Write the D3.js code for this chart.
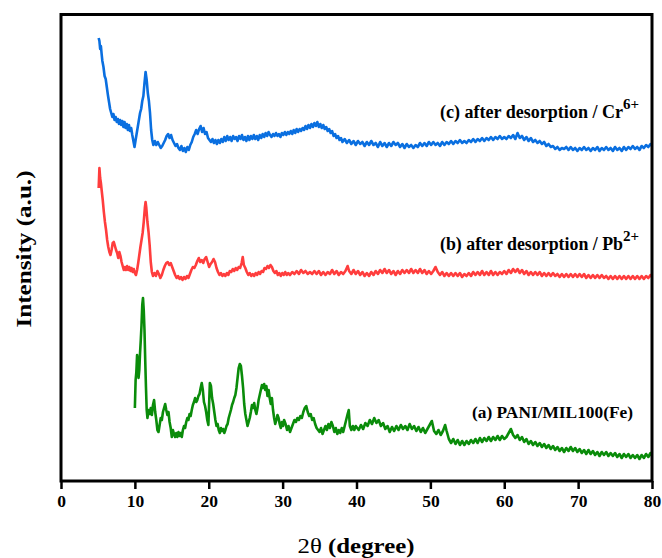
<!DOCTYPE html>
<html>
<head>
<meta charset="utf-8">
<script src="https://cdn.jsdelivr.net/npm/d3@7/dist/d3.min.js"></script>
<style>
  html, body { margin: 0; padding: 0; background: #fff; }
  svg { display: block; }
  text { font-family: "Liberation Serif", "DejaVu Serif", serif; }
</style>
</head>
<body>
<svg id="chart" width="662" height="558"></svg>
<script>
// 2θ tick values on the x axis
const xTicks = [0, 10, 20, 30, 40, 50, 60, 70, 80];

// (c) after desorption / Cr6+  — [2θ, intensity (a.u.)]
const patternC = [
[5.1,443],[5.2,440],[5.3,432],[5.4,435],[5.5,427],[5.6,420],[5.75,414],[5.9,405],[6.05,402],[6.2,394],[6.35,386],[6.5,379],[6.65,372],[6.8,368],[6.95,364],[7.1,367],[7.25,361],[7.4,364],[7.55,359],[7.7,362],[7.85,357],[8.0,361],[8.15,356],[8.3,360],[8.45,354],[8.6,359],[8.75,353],[8.9,357],[9.05,351],[9.2,356],[9.35,350],[9.5,353],[9.65,346],[9.8,340],[9.95,334],[10.1,341],[10.3,350],[10.5,359],[10.7,368],[10.85,372],[11.0,380],[11.15,385],[11.3,398],[11.45,409],[11.6,401],[11.75,388],[11.9,380],[12.05,368],[12.2,351],[12.35,341],[12.5,336],[12.7,340],[12.9,336],[13.1,339],[13.3,336],[13.5,333],[13.7,335],[13.9,338],[14.1,341],[14.3,345],[14.5,347],[14.7,343],[14.9,346],[15.1,341],[15.3,338],[15.5,335],[15.7,337],[15.9,333],[16.1,331],[16.3,335],[16.5,330],[16.7,333],[16.9,329],[17.1,334],[17.3,331],[17.5,336],[17.7,339],[17.9,344],[18.1,347],[18.3,351],[18.5,347],[18.7,352],[18.9,355],[19.1,349],[19.3,353],[19.5,347],[19.7,349],[19.9,343],[20.1,341],[20.3,339],[20.5,342],[20.7,338],[20.9,341],[21.1,337],[21.3,341],[21.5,338],[21.7,342],[21.9,339],[22.1,344],[22.3,340],[22.5,345],[22.7,341],[22.9,344],[23.1,340],[23.3,345],[23.5,342],[23.7,344],[23.9,340],[24.1,345],[24.3,342],[24.5,346],[24.7,341],[24.9,344],[25.1,340],[25.3,345],[25.5,341],[25.7,345],[25.9,342],[26.1,346],[26.3,342],[26.5,345],[26.7,341],[26.9,346],[27.1,343],[27.3,347],[27.5,344],[27.7,348],[27.9,345],[28.1,349],[28.3,346],[28.5,344],[28.7,347],[28.9,345],[29.1,348],[29.3,345],[29.5,347],[29.7,344],[29.9,348],[30.1,346],[30.3,349],[30.5,346],[30.7,349],[30.9,347],[31.1,350],[31.3,347],[31.5,351],[31.7,348],[31.9,352],[32.1,349],[32.3,352],[32.5,350],[32.7,353],[32.9,351],[33.1,355],[33.3,352],[33.5,356],[33.7,353],[33.9,357],[34.1,354],[34.3,358],[34.5,355],[34.7,359],[34.9,354],[35.1,357],[35.3,353],[35.5,356],[35.7,352],[35.9,354],[36.1,350],[36.3,352],[36.5,348],[36.7,350],[36.9,345],[37.1,347],[37.3,343],[37.5,345],[37.7,341],[37.9,343],[38.1,339],[38.4,342],[38.7,338],[39.0,341],[39.3,337],[39.6,340],[39.9,336],[40.2,340],[40.5,337],[40.8,339],[41.1,335],[41.4,339],[41.7,336],[42.0,340],[42.3,336],[42.6,338],[42.9,334],[43.2,339],[43.5,335],[43.8,338],[44.1,334],[44.4,338],[44.7,335],[45.0,339],[45.3,336],[45.6,338],[45.9,334],[46.2,337],[46.5,333],[46.8,337],[47.1,334],[47.4,336],[47.7,333],[48.0,336],[48.3,334],[48.6,338],[48.9,335],[49.2,338],[49.5,335],[49.8,339],[50.1,336],[50.4,339],[50.7,336],[51.0,338],[51.3,335],[51.6,339],[51.9,336],[52.2,339],[52.5,337],[52.8,340],[53.1,337],[53.4,340],[53.7,338],[54.0,341],[54.3,338],[54.6,340],[54.9,338],[55.2,341],[55.5,339],[55.8,342],[56.1,339],[56.4,342],[56.7,340],[57.0,343],[57.3,340],[57.6,343],[57.9,341],[58.2,344],[58.5,341],[58.8,344],[59.1,342],[59.4,345],[59.7,342],[60.0,344],[60.3,342],[60.6,345],[60.9,343],[61.2,346],[61.5,342],[61.8,348],[62.1,343],[62.4,345],[62.7,341],[63.0,344],[63.3,340],[63.6,343],[63.9,339],[64.2,341],[64.5,338],[64.8,340],[65.1,337],[65.4,339],[65.7,335],[66.0,337],[66.3,334],[66.6,335],[66.9,332],[67.2,334],[67.5,331],[67.8,333],[68.1,332],[68.4,334],[68.7,331],[69.0,334],[69.3,331],[69.6,333],[69.9,330],[70.2,333],[70.5,331],[70.8,334],[71.1,331],[71.4,333],[71.7,330],[72.0,333],[72.3,331],[72.6,334],[72.9,330],[73.2,333],[73.5,331],[73.8,334],[74.1,331],[74.4,333],[74.7,330],[75.0,334],[75.3,331],[75.6,333],[75.9,330],[76.2,334],[76.5,331],[76.8,334],[77.1,332],[77.4,335],[77.7,332],[78.0,334],[78.3,331],[78.6,335],[78.9,333],[79.2,336],[79.5,334],[79.8,337],[80.0,335]
];

// (b) after desorption / Pb2+
const patternB = [
[5.1,293],[5.2,313],[5.3,303],[5.4,298],[5.5,291],[5.65,281],[5.8,269],[5.95,259],[6.1,251],[6.25,241],[6.4,234],[6.55,229],[6.7,226],[6.85,231],[7.0,238],[7.15,239],[7.3,235],[7.45,231],[7.6,228],[7.75,223],[7.9,229],[8.05,225],[8.2,219],[8.35,215],[8.5,211],[8.65,214],[8.8,211],[8.95,215],[9.1,211],[9.25,214],[9.4,210],[9.55,213],[9.7,209],[9.85,212],[10.0,208],[10.15,206],[10.3,211],[10.45,218],[10.6,226],[10.75,234],[10.9,241],[11.05,248],[11.2,259],[11.35,273],[11.45,279],[11.55,273],[11.7,259],[11.85,249],[12.0,236],[12.15,219],[12.3,209],[12.45,205],[12.65,208],[12.85,205],[13.05,210],[13.25,207],[13.45,203],[13.65,206],[13.85,211],[14.05,215],[14.25,218],[14.45,219],[14.65,216],[14.85,218],[15.05,214],[15.25,210],[15.45,206],[15.65,203],[15.85,205],[16.05,202],[16.25,204],[16.45,201],[16.65,204],[16.85,202],[17.05,205],[17.25,203],[17.45,207],[17.65,211],[17.85,214],[18.05,213],[18.25,216],[18.45,220],[18.65,223],[18.85,219],[19.05,221],[19.25,218],[19.45,222],[19.65,224],[19.85,219],[20.05,214],[20.25,217],[20.45,219],[20.65,222],[20.85,219],[21.05,213],[21.25,209],[21.45,206],[21.65,208],[21.85,205],[22.05,207],[22.25,205],[22.45,208],[22.65,206],[22.85,210],[23.05,209],[23.25,212],[23.45,210],[23.65,213],[23.85,211],[24.05,214],[24.25,213],[24.45,218],[24.6,224],[24.75,216],[24.95,213],[25.15,209],[25.35,206],[25.55,208],[25.75,205],[25.95,207],[26.15,205],[26.35,208],[26.55,206],[26.75,209],[26.95,207],[27.15,210],[27.35,209],[27.55,213],[27.75,212],[27.95,215],[28.15,213],[28.35,216],[28.55,214],[28.75,210],[28.95,208],[29.15,210],[29.35,206],[29.55,208],[29.75,205],[29.95,208],[30.15,206],[30.35,209],[30.55,206],[30.75,208],[31.0,206],[31.3,209],[31.6,207],[31.9,210],[32.2,207],[32.5,211],[32.8,208],[33.1,210],[33.4,207],[33.7,209],[34.0,207],[34.3,210],[34.6,207],[34.9,210],[35.2,206],[35.5,209],[35.8,206],[36.1,209],[36.4,207],[36.7,211],[37.0,207],[37.3,210],[37.6,206],[37.9,209],[38.2,207],[38.5,210],[38.8,215],[39.0,210],[39.3,207],[39.6,211],[39.9,207],[40.2,210],[40.5,206],[40.8,209],[41.1,205],[41.4,208],[41.7,205],[42.0,209],[42.3,206],[42.6,210],[42.9,207],[43.2,211],[43.5,208],[43.8,212],[44.1,208],[44.4,211],[44.7,207],[45.0,210],[45.3,206],[45.6,210],[45.9,207],[46.2,211],[46.5,208],[46.8,211],[47.1,208],[47.4,212],[47.7,208],[48.0,211],[48.3,208],[48.6,212],[48.9,208],[49.2,211],[49.5,207],[49.8,210],[50.1,207],[50.4,210],[50.7,214],[51.0,209],[51.3,206],[51.6,209],[51.9,205],[52.2,208],[52.5,205],[52.8,208],[53.1,205],[53.4,208],[53.7,205],[54.0,208],[54.3,204],[54.6,207],[54.9,205],[55.2,208],[55.5,205],[55.8,209],[56.1,206],[56.4,209],[56.7,206],[57.0,210],[57.3,206],[57.6,209],[57.9,206],[58.2,210],[58.5,206],[58.8,209],[59.1,206],[59.4,209],[59.7,207],[60.0,210],[60.3,207],[60.6,211],[60.9,208],[61.2,212],[61.5,209],[61.8,212],[62.1,208],[62.4,211],[62.7,207],[63.0,210],[63.3,206],[63.6,209],[63.9,206],[64.2,209],[64.5,206],[64.8,209],[65.1,205],[65.4,208],[65.7,205],[66.0,208],[66.3,205],[66.6,208],[66.9,205],[67.2,207],[67.5,204],[67.8,207],[68.1,204],[68.4,207],[68.7,204],[69.0,207],[69.3,204],[69.6,207],[69.9,204],[70.2,207],[70.5,204],[70.8,207],[71.1,203],[71.4,206],[71.7,203],[72.0,206],[72.3,203],[72.6,206],[72.9,203],[73.2,206],[73.5,203],[73.8,205],[74.1,202],[74.4,205],[74.7,202],[75.0,205],[75.3,202],[75.6,205],[75.9,202],[76.2,205],[76.5,202],[76.8,205],[77.1,202],[77.4,205],[77.7,202],[78.0,205],[78.3,202],[78.6,205],[78.9,202],[79.2,205],[79.5,203],[79.8,206],[80.0,204]
];

// (a) PANI/MIL100(Fe)
const patternA = [
[10.0,73],[10.1,101],[10.2,109],[10.3,126],[10.4,119],[10.5,103],[10.6,111],[10.7,128],[10.8,141],[10.9,156],[11.0,176],[11.1,183],[11.2,171],[11.3,151],[11.4,121],[11.5,94],[11.6,71],[11.7,63],[11.85,71],[12.0,67],[12.15,73],[12.3,66],[12.45,76],[12.6,81],[12.75,69],[12.9,61],[13.05,51],[13.2,49],[13.35,56],[13.5,63],[13.65,61],[13.8,69],[13.95,73],[14.1,77],[14.25,71],[14.4,66],[14.55,69],[14.7,59],[14.85,53],[15.0,44],[15.15,51],[15.3,47],[15.45,44],[15.6,48],[15.75,44],[15.9,49],[16.05,45],[16.2,48],[16.35,44],[16.5,51],[16.65,55],[16.8,53],[16.95,59],[17.1,63],[17.25,61],[17.4,67],[17.55,65],[17.7,71],[17.85,76],[18.0,79],[18.15,83],[18.3,79],[18.45,81],[18.6,85],[18.75,87],[18.9,93],[19.05,98],[19.2,91],[19.35,79],[19.5,75],[19.65,69],[19.8,61],[19.95,56],[20.05,77],[20.15,98],[20.3,95],[20.45,83],[20.6,77],[20.75,69],[20.9,61],[21.05,55],[21.2,57],[21.35,51],[21.5,48],[21.65,53],[21.8,50],[21.95,52],[22.1,48],[22.25,51],[22.4,55],[22.55,57],[22.7,63],[22.85,67],[23.0,71],[23.15,76],[23.3,79],[23.45,83],[23.6,86],[23.75,93],[23.9,103],[24.05,113],[24.2,117],[24.35,115],[24.5,105],[24.65,93],[24.8,77],[24.95,67],[25.1,61],[25.25,55],[25.4,59],[25.55,63],[25.7,69],[25.85,76],[26.0,73],[26.15,78],[26.3,71],[26.45,67],[26.6,73],[26.75,81],[26.9,86],[27.05,91],[27.2,96],[27.35,93],[27.5,97],[27.65,91],[27.8,95],[27.95,85],[28.1,91],[28.25,83],[28.4,77],[28.55,83],[28.7,71],[28.85,63],[29.0,57],[29.15,61],[29.3,66],[29.45,63],[29.6,57],[29.75,53],[29.9,59],[30.05,55],[30.2,61],[30.4,57],[30.6,51],[30.8,55],[31.0,49],[31.2,53],[31.4,57],[31.6,61],[31.8,59],[32.0,63],[32.2,61],[32.4,65],[32.6,63],[32.8,69],[33.0,73],[33.2,75],[33.4,69],[33.6,65],[33.8,67],[34.0,61],[34.2,63],[34.4,57],[34.6,53],[34.8,51],[35.0,49],[35.2,53],[35.4,47],[35.6,51],[35.8,55],[36.0,51],[36.2,57],[36.4,53],[36.6,59],[36.8,55],[37.0,49],[37.2,53],[37.4,47],[37.6,51],[37.8,48],[38.0,53],[38.2,49],[38.4,55],[38.6,61],[38.8,67],[38.95,71],[39.1,55],[39.3,51],[39.5,55],[39.7,51],[39.9,55],[40.1,53],[40.3,51],[40.6,56],[40.9,52],[41.2,58],[41.5,55],[41.8,61],[42.1,57],[42.4,63],[42.7,58],[43.0,61],[43.3,55],[43.6,58],[43.9,52],[44.2,55],[44.5,49],[44.8,54],[45.1,50],[45.4,55],[45.7,51],[46.0,56],[46.3,52],[46.6,55],[46.9,51],[47.2,57],[47.5,52],[47.8,55],[48.1,50],[48.4,54],[48.7,49],[49.0,53],[49.3,48],[49.6,52],[49.9,56],[50.2,60],[50.5,50],[50.8,47],[51.1,51],[51.4,46],[51.7,50],[52.0,56],[52.2,50],[52.5,42],[52.8,38],[53.1,42],[53.4,37],[53.7,41],[54.0,36],[54.3,40],[54.6,36],[54.9,40],[55.2,37],[55.5,41],[55.8,38],[56.1,42],[56.4,38],[56.7,43],[57.0,39],[57.3,43],[57.6,40],[57.9,44],[58.2,40],[58.5,44],[58.8,41],[59.1,45],[59.4,41],[59.7,45],[60.0,42],[60.3,44],[60.6,48],[60.9,52],[61.2,46],[61.5,43],[61.8,46],[62.1,41],[62.4,44],[62.7,39],[63.0,42],[63.3,37],[63.6,40],[63.9,36],[64.2,39],[64.5,35],[64.8,38],[65.1,34],[65.4,37],[65.7,33],[66.0,36],[66.3,32],[66.6,35],[66.9,31],[67.2,34],[67.5,30],[67.8,33],[68.1,29],[68.4,33],[68.7,30],[69.0,34],[69.3,30],[69.6,33],[69.9,29],[70.2,32],[70.5,28],[70.8,31],[71.1,27],[71.4,31],[71.7,27],[72.0,30],[72.3,26],[72.6,29],[72.9,25],[73.2,29],[73.5,26],[73.8,29],[74.1,25],[74.4,28],[74.7,25],[75.0,28],[75.3,24],[75.6,27],[75.9,23],[76.2,27],[76.5,24],[76.8,27],[77.1,23],[77.4,26],[77.7,23],[78.0,26],[78.3,22],[78.6,26],[78.9,23],[79.2,27],[79.5,24],[79.8,28],[80.0,25]
];

const seriesColors = ["#0a6fe0", "#ff3d3d", "#0a8c0a"];

const svg = d3.select("#chart");
const margin = { left: 61, right: 10, top: 14.5, bottom: 77 };
const W = 662, H = 558;

const x = d3.scaleLinear().domain([0, 80]).range([margin.left, W - margin.right]);
const y = d3.scaleLinear().domain([0, 466.5]).range([H - margin.bottom, margin.top]);

const line = d3.line().x(d => x(d[0])).y(d => y(d[1]));

// diffraction patterns
[patternC, patternB, patternA].forEach((pts, i) => {
  svg.append("path")
    .datum(pts)
    .attr("d", line)
    .attr("fill", "none")
    .attr("stroke", seriesColors[i])
    .attr("stroke-width", 2.6)
    .attr("stroke-linejoin", "round");
});

// frame
svg.append("rect")
  .attr("x", x(0)).attr("y", y(466.5))
  .attr("width", x(80) - x(0)).attr("height", y(0) - y(466.5))
  .attr("fill", "none").attr("stroke", "#000").attr("stroke-width", 3);

// bottom axis
const xAxis = d3.axisBottom(x).tickValues(xTicks).tickSize(8).tickPadding(6).tickFormat(d3.format("d"));
const gx = svg.append("g").attr("transform", `translate(0,${y(0)})`).call(xAxis);
gx.select(".domain").remove();
gx.selectAll(".tick line").attr("stroke", "#000").attr("stroke-width", 2.5);
gx.selectAll(".tick text")
  .attr("fill", "#000")
  .style("font-family", "'Liberation Serif', serif")
  .style("font-weight", "bold")
  .style("font-size", "17.5px");

// axis titles
const xTitle = svg.append("text")
  .attr("x", 356).attr("y", 553)
  .attr("text-anchor", "middle")
  .attr("textLength", 117)
  .attr("lengthAdjust", "spacingAndGlyphs")
  .style("font-size", "22px");
xTitle.append("tspan").text("2θ ");
xTitle.append("tspan").style("font-weight", "bold").text("(degree)");

svg.append("text")
  .attr("transform", "translate(31,249) rotate(-90)")
  .attr("text-anchor", "middle")
  .attr("textLength", 157)
  .attr("lengthAdjust", "spacingAndGlyphs")
  .style("font-size", "22px")
  .style("font-weight", "bold")
  .text("Intensity (a.u.)");

// series labels
function seriesLabel(px, py, main, sup, size, len) {
  const t = svg.append("text")
    .attr("x", px).attr("y", py)
    .style("font-size", size + "px")
    .style("font-weight", "bold")
    .attr("fill", "#000");
  t.append("tspan").attr("textLength", len).attr("lengthAdjust", "spacingAndGlyphs").text(main);
  if (sup) {
    t.append("tspan").attr("dy", -9).style("font-size", (size - 3) + "px").text(sup);
  }
}
seriesLabel(440, 118, "(c) after desorption / Cr", "6+", 18, 183);
seriesLabel(440, 250, "(b) after desorption / Pb", "2+", 18, 183);
seriesLabel(472, 418, "(a) PANI/MIL100(Fe)", null, 17.5, 161);
</script>
</body>
</html>
